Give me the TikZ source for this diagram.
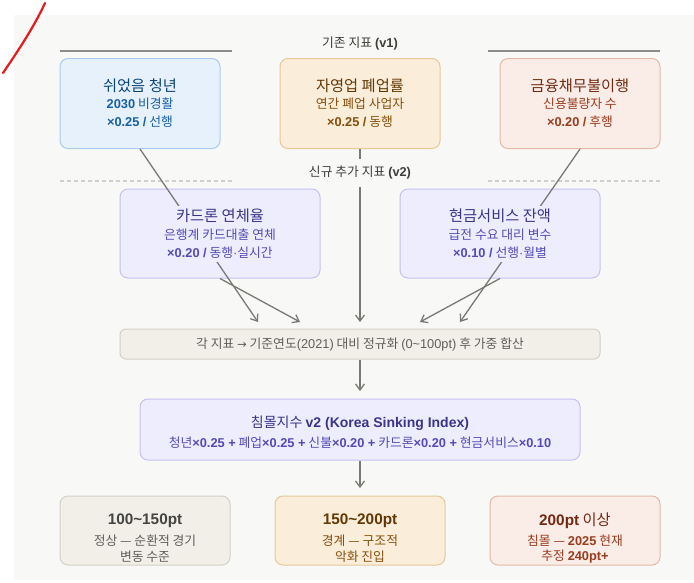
\documentclass[tikz,border=0pt]{standalone}
\usepackage{fontspec}
\setmainfont{Noto Sans CJK KR}
\newfontfamily\latf{Liberation Sans}
\newfontfamily\symf{DejaVu Sans}
\usetikzlibrary{arrows.meta}
\definecolor{bgc}{HTML}{F8F8F6}
\definecolor{slash}{HTML}{E8191C}
\definecolor{bluef}{HTML}{E6F1FB}\definecolor{blued}{HTML}{A9CBEF}\definecolor{bluet}{HTML}{0C447C}\definecolor{blues}{HTML}{185FA5}
\definecolor{ambf}{HTML}{FAEEDA}\definecolor{ambd}{HTML}{E6C89B}\definecolor{ambt}{HTML}{633806}\definecolor{ambs}{HTML}{854F0B}
\definecolor{corf}{HTML}{FAECE7}\definecolor{cord}{HTML}{E4B9AA}\definecolor{cort}{HTML}{712B13}\definecolor{cors}{HTML}{993C1D}
\definecolor{purf}{HTML}{EEEDFE}\definecolor{purd}{HTML}{C5C1F1}\definecolor{purt}{HTML}{3C3489}\definecolor{purs}{HTML}{534AB7}
\definecolor{gryf}{HTML}{F1EFE8}\definecolor{gryd}{HTML}{D3D1C7}\definecolor{gryt}{HTML}{444441}\definecolor{grys}{HTML}{5F5E5A}
\definecolor{conn}{HTML}{7A7975}
\definecolor{headline}{HTML}{8C8C8C}
\definecolor{dashc}{HTML}{CFCFCB}
\definecolor{headt}{HTML}{3D3D3A}
\newcommand{\lt}[1]{{\latf\bfseries #1}}
\newcommand{\lr}[1]{{\latf #1}}
\newcommand{\fsA}{\fontsize{15.3}{17}\selectfont}
\newcommand{\fsB}{\fontsize{12.8}{14}\selectfont}
\tikzset{
  box/.style={draw, rounded corners=8pt, line width=1pt, inner sep=0pt},
  ttl/.style={inner sep=0pt, font=\fsA},
  sub/.style={inner sep=0pt, font=\fsB},
  cover/.style={inner xsep=1pt, inner ysep=3.5pt},
  arr/.style={draw=conn, line width=1.3pt, -{Straight Barb[length=6pt,width=9pt]}},
}
\begin{document}
\begin{tikzpicture}[x=1pt,y=-1pt]
\useasboundingbox (0,0) rectangle (694,582);
\fill[bgc] (14,15) rectangle (694,580);
\draw[slash, line width=2.2pt, line cap=round] (3,73) .. controls (20,48) and (35,25) .. (45,3);

% headings
\draw[headline, line width=2pt] (60,50.5) -- (232,50.5);
\draw[headline, line width=2pt] (488,50.5) -- (660,50.5);
\node[sub, text=headt] (h1) at (360,43.5) {기존 지표 \lt{(v1)}};
\draw[dashc, line width=1.5pt, dash pattern=on 4pt off 3pt] (60,181) -- (232,181);
\draw[dashc, line width=1.5pt, dash pattern=on 4pt off 3pt] (488,181) -- (660,181);

% boxes
\node[box, fill=bluef, draw=blued, minimum width=160pt, minimum height=90pt] (b1) at (140,103.5) {};
\node[box, fill=ambf, draw=ambd, minimum width=160pt, minimum height=90pt] (b2) at (360,103.5) {};
\node[box, fill=corf, draw=cord, minimum width=160pt, minimum height=90pt] (b3) at (580,103.5) {};
\node[box, fill=purf, draw=purd, minimum width=200pt, minimum height=89pt] (b4) at (220,233.5) {};
\node[box, fill=purf, draw=purd, minimum width=200pt, minimum height=89pt] (b5) at (500,233.5) {};
\node[box, fill=gryf, draw=gryd, rounded corners=6pt, minimum width=480pt, minimum height=30pt] (nrm) at (360,344) {};
\node[box, fill=purf, draw=purd, minimum width=440pt, minimum height=61pt] (idx) at (360,429.5) {};
\node[box, fill=gryf, draw=gryd, minimum width=170pt, minimum height=69pt] (r1) at (145,530.5) {};
\node[box, fill=ambf, draw=ambd, minimum width=170pt, minimum height=69pt] (r2) at (360,530.5) {};
\node[box, fill=corf, draw=cord, minimum width=170pt, minimum height=69pt] (r3) at (575,530.5) {};

% arrow tips
\coordinate (t1) at (258,322);
\coordinate (t4) at (300,322);
\coordinate (t2) at (360,322);
\coordinate (t5) at (420,322);
\coordinate (t3) at (460,322);
\coordinate (tn) at (360,391);
\coordinate (ti) at (360,488);

\draw[arr] (b1.south) -- (t1);
\draw[arr] (b4.south) -- (t4);
\draw[arr] (b2.south) -- (t2);
\draw[arr] (b5.south) -- (t5);
\draw[arr] (b3.south) -- (t3);
\draw[arr] (nrm.south) -- (tn);
\draw[arr] (idx.south) -- (ti);

\node[sub, text=headt, fill=bgc, inner xsep=4pt, inner ysep=7pt] (h2) at (360,173) {신규 추가 지표 \lt{(v2)}};

% box texts
\node[ttl, text=bluet] (b1a) at (140,86) {쉬었음 청년};
\node[sub, text=blues] (b1b) at (140,104) {\lt{2030} 비경활};
\node[sub, text=blues] (b1c) at (140,122) {\lt{×0.25 /} 선행};

\node[ttl, text=ambt] (b2a) at (360,86) {자영업 폐업률};
\node[sub, text=ambs] (b2b) at (360,104) {연간 폐업 사업자};
\node[sub, text=ambs] (b2c) at (360,122) {\lt{×0.25 /} 동행};

\node[ttl, text=cort] (b3a) at (580,86) {금융채무불이행};
\node[sub, text=cors] (b3b) at (580,104) {신용불량자 수};
\node[sub, text=cors] (b3c) at (580,122) {\lt{×0.20 /} 후행};

\node[ttl, cover, fill=purf, text=purt] (b4a) at (220,216) {카드론 연체율};
\node[sub, cover, fill=purf, text=purs] (b4b) at (220,235) {은행계 카드대출 연체};
\node[sub, cover, fill=purf, text=purs] (b4c) at (220,253) {\lt{×0.20 /} 동행\lr{·}실시간};

\node[ttl, cover, fill=purf, text=purt] (b5a) at (500,216) {현금서비스 잔액};
\node[sub, cover, fill=purf, text=purs] (b5b) at (500,235) {급전 수요 대리 변수};
\node[sub, cover, fill=purf, text=purs] (b5c) at (500,253) {\lt{×0.10 /} 선행\lr{·}월별};

\node[sub, text=grys] (nrmt) at (360,344) {각 지표 {\symf\fontsize{11.5}{14}\selectfont →} 기준연도\lr{(2021)} 대비 정규화 \lr{(0\textasciitilde100pt)} 후 가중 합산};

\node[font=\fontsize{14}{17}\selectfont, inner sep=0pt, text=purt] (idxa) at (360,423) {침몰지수 \lt{v2 (Korea Sinking Index)}};
\node[sub, text=purs] (idxb) at (360,443) {청년\lt{×0.25 +} 폐업\lt{×0.25 +} 신불\lt{×0.20 +} 카드론\lt{×0.20 +} 현금서비스\lt{×0.10}};

\node[ttl, text=gryt] (r1a) at (145,521) {\lt{100\textasciitilde150pt}};
\node[sub, text=grys] (r1b) at (145,541) {정상 — 순환적 경기};
\node[sub, text=grys] (r1c) at (145,557) {변동 수준};

\node[ttl, text=ambt] (r2a) at (360,521) {\lt{150\textasciitilde200pt}};
\node[sub, text=ambs] (r2b) at (360,541) {경계 — 구조적};
\node[sub, text=ambs] (r2c) at (360,557) {악화 진입};

\node[ttl, text=cort] (r3a) at (575,521) {\lt{200pt} 이상};
\node[sub, text=cors] (r3b) at (575,541) {침몰 — \lt{2025} 현재};
\node[sub, text=cors] (r3c) at (575,557) {추정 \lt{240pt+}};
\end{tikzpicture}
\end{document}
